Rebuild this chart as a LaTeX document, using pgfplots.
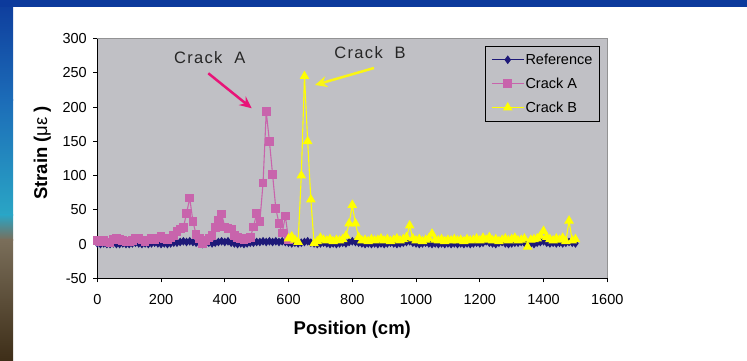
\documentclass[border=0pt]{standalone}
\usepackage{fontspec}
\setmainfont{Liberation Sans}
\usepackage{pgfplots}
\usepackage{pgfplotstable}
\pgfplotsset{compat=1.18}
\usetikzlibrary{arrows.meta}
\definecolor{plotgray}{RGB}{192,192,197}
\definecolor{refblue}{RGB}{30,25,120}
\definecolor{crackA}{RGB}{200,100,172}
\definecolor{crackB}{RGB}{255,255,0}
\definecolor{arrowA}{RGB}{232,20,120}
\definecolor{arrowB}{RGB}{250,245,20}
\definecolor{topblue}{RGB}{12,58,156}
\definecolor{bgA}{RGB}{14,60,156}
\definecolor{bgB}{RGB}{28,108,184}
\definecolor{bgC}{RGB}{42,165,197}
\definecolor{bgD}{RGB}{122,110,90}
\definecolor{bgE}{RGB}{62,46,24}

\pgfplotstableread{
x y
0 1
10 0
20 1
30 0
40 0
50 1
60 0
70 0
80 1
90 0
100 0
110 1
120 2
130 1
140 0
150 1
160 0
170 1
180 2
190 1
200 0
210 1
220 0
230 1
240 2
250 2
260 3
270 4
280 3
290 4
300 3
310 2
320 1
330 0
340 1
350 2
360 1
370 2
380 3
390 4
400 3
410 4
420 2
430 1
440 0
450 1
460 0
470 1
480 2
490 2
500 3
510 3
520 4
530 3
540 4
550 3
560 4
570 3
580 4
590 3
600 2
610 1
620 2
630 1
640 2
650 3
660 4
670 2
680 1
690 0
700 1
710 2
720 1
730 0
740 1
750 0
760 1
770 2
780 1
790 3
800 4
810 3
820 2
830 1
840 0
850 1
860 0
870 1
880 0
890 1
900 0
910 1
920 2
930 1
940 0
950 1
960 2
970 3
980 4
990 2
1000 1
1010 0
1020 1
1030 2
1040 1
1050 0
1060 1
1070 0
1080 1
1090 0
1100 1
1110 0
1120 1
1130 0
1140 1
1150 0
1160 1
1170 0
1180 1
1190 2
1200 1
1210 2
1220 4
1230 2
1240 1
1250 0
1260 2
1270 3
1280 1
1290 0
1300 1
1310 2
1320 2
1330 3
1340 2
1350 0
1360 1
1370 0
1380 2
1390 3
1400 4
1410 2
1420 1
1430 2
1440 1
1450 2
1460 1
1470 2
1480 3
1490 2
1500 1
}\refdata

\pgfplotstableread{
x y
0 5
10 4
20 6
30 3
40 2
50 7
60 8
70 7
80 5
90 4
100 3
110 5
120 9
130 8
140 6
150 4
160 6
170 8
180 7
190 9
200 11
210 8
220 6
230 9
240 12
250 18
260 22
270 24
280 45
290 67
300 33
310 14
320 8
330 1
340 5
350 9
360 12
370 24
380 35
390 44
400 25
410 23
420 22
430 12
440 10
450 8
460 7
470 8
480 10
490 25
500 45
510 33
520 89
530 193
540 150
550 101
560 52
570 30
580 16
590 41
600 6
}\crackAdata

\pgfplotstableread{
x y
600 8
610 11
620 6
630 3
640 100
650 245
660 150
670 65
680 1
690 4
700 9
710 6
720 5
730 7
740 4
750 6
760 5
770 7
780 12
790 30
800 57
810 30
820 10
830 5
840 6
850 4
860 7
870 5
880 6
890 8
900 5
910 7
920 4
930 6
940 8
950 5
960 7
970 10
980 27
990 8
1000 5
1010 7
1020 4
1030 6
1040 8
1050 15
1060 6
1070 5
1080 7
1090 4
1100 6
1110 5
1120 7
1130 5
1140 6
1150 4
1160 7
1170 5
1180 6
1190 8
1200 5
1210 9
1220 6
1230 10
1240 5
1250 7
1260 4
1270 6
1280 8
1290 5
1300 7
1310 9
1320 5
1330 6
1340 8
1350 -4
1360 6
1370 7
1380 8
1390 12
1400 19
1410 10
1420 7
1430 5
1440 8
1450 6
1460 9
1470 4
1480 34
1490 5
1500 7
}\crackBdata

\begin{document}
\begin{tikzpicture}[x=1pt,y=1pt]
\useasboundingbox (0,0) rectangle (747,360);
\fill[white] (0,0) rectangle (747,360);
% left decorative strip
\shade[top color=bgA,bottom color=bgB] (0,260) rectangle (13,360);
\shade[top color=bgB,bottom color=bgC] (0,145) rectangle (13,260.2);
\shade[top color=bgC,bottom color=bgD] (0,120) rectangle (13,145.2);
\shade[top color=bgD,bottom color=bgE] (0,0) rectangle (13,120.2);
% top blue bar
\fill[topblue] (0,353.5) rectangle (747,360);

\begin{axis}[
  at={(97.3pt,81.7pt)}, anchor=south west,
  scale only axis, width=510pt, height=239.8pt,
  xmin=0, xmax=1600, ymin=-50, ymax=300,
  xtick={0,200,...,1600}, ytick={-50,0,...,300},
  axis x line*=bottom, axis y line*=left,
  axis line style={black, line width=0.9pt},
  axis background/.style={fill=plotgray, draw=gray!70!plotgray, line width=0.8pt},
  tick align=outside, major tick length=4pt,
  tick style={black, line width=0.9pt},
  /pgf/number format/assume math mode=true,
  /pgf/number format/1000 sep={},
  ticklabel style={font=\fontsize{14.5}{16}\selectfont},
  xticklabel style={yshift=-9pt},
  yticklabel style={xshift=-3pt},
  xlabel={\textbf{Position (cm)}},
  ylabel={\textbf{Strain (}με\textbf{ )}},
  xlabel style={font=\fontsize{18.5}{20}\selectfont, at={(axis description cs:0.5,-0.2156)}, anchor=center},
  ylabel style={font=\fontsize{18.5}{20}\selectfont, at={(axis description cs:-0.108,0.5225)}, anchor=center},
  legend cell align=left,
  legend style={at={(0.9857,0.970)}, anchor=north east, fill=plotgray, draw=black, line width=0.8pt,
    font=\fontsize{14.5}{16}\selectfont, row sep=9.5pt, inner xsep=6pt, inner ysep=6.5pt,
    nodes={inner sep=1.2pt}},
  legend image code/.code={\draw[mark repeat=2,mark phase=2,#1] plot coordinates {(0pt,0pt)(16pt,0pt)(32pt,0pt)};},
]
\addplot[refblue, line width=1.1pt, mark=diamond*, mark size=3.5pt, mark options={fill=refblue, solid}] table {\refdata};
\addlegendentry{Reference}
\addplot[crackA, line width=1.1pt, mark=square*, mark size=3.8pt, mark options={fill=crackA, solid}] table {\crackAdata};
\addlegendentry{Crack A}
\addplot[crackB, line width=1.1pt, mark=triangle*, mark size=4.5pt, mark options={fill=crackB, solid}] table {\crackBdata};
\addlegendentry{Crack B}
\end{axis}

% annotations
\node[font=\fontsize{16.5}{18}\selectfont\addfontfeatures{LetterSpace=8}, text=black!85] at (209.7,302.5) {Crack\ \ A};
\node[font=\fontsize{16.5}{18}\selectfont\addfontfeatures{LetterSpace=8}, text=black!85] at (370,307) {Crack\ \ B};
\draw[arrowA, line width=2.5pt, -{Stealth[length=12pt,width=11pt]}] (208.3,286.7) -- (251.7,251.7);
\draw[arrowB, line width=2.5pt, -{Stealth[length=12pt,width=11pt]}] (374,292) -- (315,275);
\end{tikzpicture}
\end{document}
